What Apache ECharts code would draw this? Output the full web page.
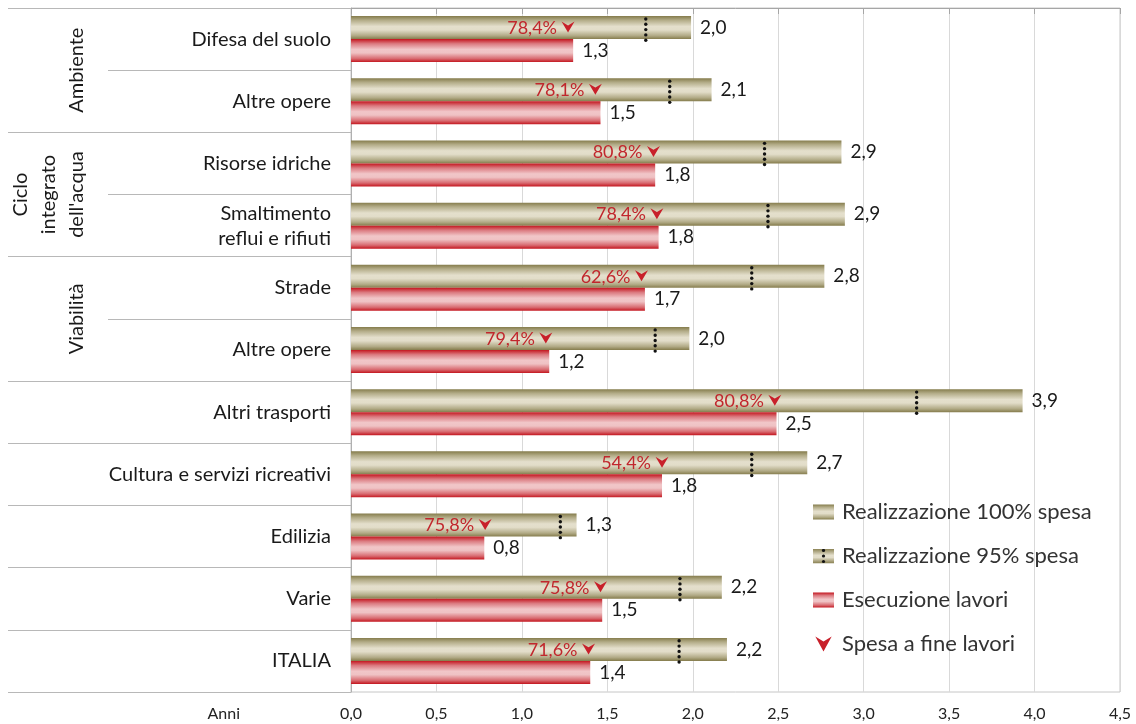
<!DOCTYPE html>
<html><head><meta charset="utf-8">
<script src="https://cdn.jsdelivr.net/npm/echarts@6/dist/echarts.min.js"></script>
<style>html,body{margin:0;padding:0;background:#fff}#c{width:1136px;height:724px}</style>
</head><body><div id="c"></div>
<script>
// ---- data ----
const categories = ['Difesa del suolo','Altre opere','Risorse idriche','Smaltimento\nreflui e rifiuti','Strade','Altre opere','Altri trasporti','Cultura e servizi ricreativi','Edilizia','Varie','ITALIA'];
const groupLabels = ['Ambiente', 'Ciclo\nintegrato\ndell\'acqua', 'Viabilità'];
const groupCenters = [1, 3, 5];
const groupBounds = [0, 2, 4, 6, 7, 8, 9, 10, 11];
const realizzazione100 = [1.99, 2.11, 2.87, 2.89, 2.77, 1.98, 3.93, 2.67, 1.32, 2.17, 2.20];
const realizzazione95 = [1.725, 1.865, 2.42, 2.44, 2.345, 1.78, 3.31, 2.345, 1.225, 1.925, 1.92];
const esecuzione = [1.30, 1.46, 1.78, 1.80, 1.72, 1.16, 2.49, 1.82, 0.78, 1.47, 1.40];
const spesaFine = [1.27, 1.43, 1.77, 1.79, 1.70, 1.14, 2.48, 1.82, 0.785, 1.46, 1.39];
const spesaPct = [78.4, 78.1, 80.8, 78.4, 62.6, 79.4, 80.8, 54.4, 75.8, 75.8, 71.6];
const xTicks = {min: 0, max: 4.5, interval: 0.5};
const axisUnit = 'Anni';

const FONT = 'Lato';
const fmt1 = v => v.toFixed(1).replace('.', ',');
const CAT_GAP = 0.26;

const olive = new echarts.graphic.LinearGradient(0,0,0,1,[
  {offset:0,color:'#857c4c'},{offset:0.18,color:'#b3ac88'},{offset:0.45,color:'#e4dfcc'},
  {offset:0.6,color:'#e2ddc9'},{offset:0.85,color:'#b1aa86'},{offset:1,color:'#857c4c'}]);
const red = new echarts.graphic.LinearGradient(0,0,0,1,[
  {offset:0,color:'#c4161f'},{offset:0.2,color:'#db7a80'},{offset:0.45,color:'#f1c6c8'},
  {offset:0.6,color:'#efc2c4'},{offset:0.85,color:'#d86a70'},{offset:1,color:'#c4161f'}]);

const svg95 = '<svg xmlns="http://www.w3.org/2000/svg" width="21" height="15"><defs><linearGradient id="g" x1="0" y1="0" x2="0" y2="1"><stop offset="0" stop-color="#857c4c"/><stop offset="0.45" stop-color="#e4dfcc"/><stop offset="0.6" stop-color="#e2ddc9"/><stop offset="1" stop-color="#857c4c"/></linearGradient></defs><rect width="21" height="15" fill="url(#g)"/><circle cx="10.5" cy="2" r="1.6" fill="#111"/><circle cx="10.5" cy="7.5" r="1.6" fill="#111"/><circle cx="10.5" cy="13" r="1.6" fill="#111"/></svg>';
const icon95 = 'image://data:image/svg+xml;charset=utf-8,' + encodeURIComponent(svg95);

function oliveCenterY(api, idx){
  const c = api.coord([0, idx]);
  const band = api.size([0, 1])[1];
  const bw = band * (1 - CAT_GAP) / 2;
  return {cy: c[1] - bw / 2, bw: bw};
}

const chart = echarts.init(document.getElementById('c'), null, {renderer: 'canvas'});
chart.setOption({
  animation: false,
  textStyle: {fontFamily: FONT},
  grid: {left: 351, right: 16, top: 8, bottom: 32, containLabel: false,
         show: true, borderColor: '#c6c6c6', borderWidth: 1, backgroundColor: 'transparent'},
  legend: {
    orient: 'vertical', left: 808, top: 496, itemWidth: 21, itemHeight: 15, itemGap: 22,
    textStyle: {fontSize: 22, color: '#333', fontFamily: FONT, padding: [0, 0, 0, 3]},
    data: [
      {name: 'Realizzazione 100% spesa', icon: 'rect'},
      {name: 'Realizzazione 95% spesa', icon: icon95},
      {name: 'Esecuzione lavori', icon: 'rect'},
      {name: 'Spesa a fine lavori', icon: 'path://M0,0L6,3.6L12,0L6,11Z', itemStyle: {color: '#c8202a'}}
    ]
  },
  xAxis: {
    type: 'value', min: xTicks.min, max: xTicks.max, interval: xTicks.interval,
    axisLine: {show: true, lineStyle: {color: '#a6a6a6'}},
    axisTick: {show: true, length: 6, lineStyle: {color: '#a6a6a6'}},
    axisLabel: {fontSize: 16, color: '#222', margin: 14, formatter: v => fmt1(v)},
    splitLine: {show: true, lineStyle: {color: '#d9d9d9'}}
  },
  yAxis: [
    {
      type: 'category', data: categories, inverse: true,
      axisLine: {show: true, lineStyle: {color: '#b0b0b0'}},
      axisTick: {show: true, length: 243, lineStyle: {color: '#b8b8b8'}},
      axisLabel: {fontSize: 20, color: '#1a1a1a', margin: 20, lineHeight: 25, fontFamily: FONT},
      splitLine: {show: false}
    },
    {
      type: 'value', min: 0, max: categories.length, inverse: true, position: 'left',
      axisLine: {show: false},
      axisTick: {show: true, length: 343, customValues: groupBounds, lineStyle: {color: '#b8b8b8'}},
      axisLabel: {
        show: true, customValues: groupCenters, rotate: 90, margin: 260,
        color: '#1a1a1a', fontFamily: FONT,
        formatter: v => {
          const i = groupCenters.indexOf(v);
          if (i < 0) return '';
          return groupLabels[i].split('\n').map(s => '{g|' + s + '}').join('\n');
        },
        rich: {g: {fontSize: 20, lineHeight: 28, align: 'center', color: '#1a1a1a', fontFamily: FONT}}
      },
      splitLine: {show: false}
    }
  ],
  series: [
    {
      name: 'Realizzazione 100% spesa', type: 'bar', yAxisIndex: 0, data: realizzazione100,
      barGap: '0%', barCategoryGap: (CAT_GAP * 100) + '%',
      itemStyle: {color: olive},
      label: {show: true, position: 'right', distance: 9, fontSize: 19, color: '#1a1a1a', fontFamily: FONT, formatter: p => fmt1(p.value)}
    },
    {
      name: 'Esecuzione lavori', type: 'bar', yAxisIndex: 0, data: esecuzione,
      itemStyle: {color: red},
      label: {show: true, position: 'right', distance: 9, fontSize: 19, color: '#1a1a1a', fontFamily: FONT, formatter: p => fmt1(p.value)}
    },
    {
      name: 'Realizzazione 95% spesa', type: 'custom', yAxisIndex: 0, z: 5,
      itemStyle: {color: '#b9b291'},
      data: realizzazione95.map((v, i) => [v, i]),
      renderItem: function(params, api){
        const x = api.coord([api.value(0), api.value(1)])[0];
        const o = oliveCenterY(api, api.value(1));
        const cy = o.cy + 2;
        const ch = [];
        for (let k = -2; k <= 2; k++) {
          ch.push({type: 'circle', shape: {cx: x, cy: cy + k * 5.3, r: 1.7}, style: {fill: '#111'}});
        }
        return {type: 'group', children: ch};
      }
    },
    {
      name: 'Spesa a fine lavori', type: 'custom', yAxisIndex: 0, z: 6,
      itemStyle: {color: '#c8202a'},
      data: spesaFine.map((v, i) => [v, i, spesaPct[i]]),
      renderItem: function(params, api){
        const x = api.coord([api.value(0), api.value(1)])[0];
        const o = oliveCenterY(api, api.value(1));
        const cy = o.cy;
        return {type: 'group', children: [
          {type: 'path', shape: {pathData: 'M0,0L6.5,3.8L13,0L6.5,11Z', x: x - 6.5, y: cy - 6, width: 13, height: 11},
           style: {fill: '#c8202a'}},
          {type: 'text', x: x - 11, y: cy + 0.5,
           style: {text: fmt1(api.value(2)) + '%', align: 'right', verticalAlign: 'middle',
                   fill: '#c1272d', fontSize: 18, fontFamily: FONT}}
        ]};
      }
    }
  ]
});

// axis unit label "Anni", anchored to the x axis origin
const origin = chart.convertToPixel({xAxisIndex: 0}, xTicks.min);
const bottomY = chart.convertToPixel({yAxisIndex: 1}, categories.length);
chart.setOption({
  graphic: [{
    type: 'text', x: origin - 111, y: bottomY + 22,
    style: {text: axisUnit, align: 'right', verticalAlign: 'middle', fontSize: 16, fill: '#222', fontFamily: FONT}
  }]
});
</script>
</body></html>
